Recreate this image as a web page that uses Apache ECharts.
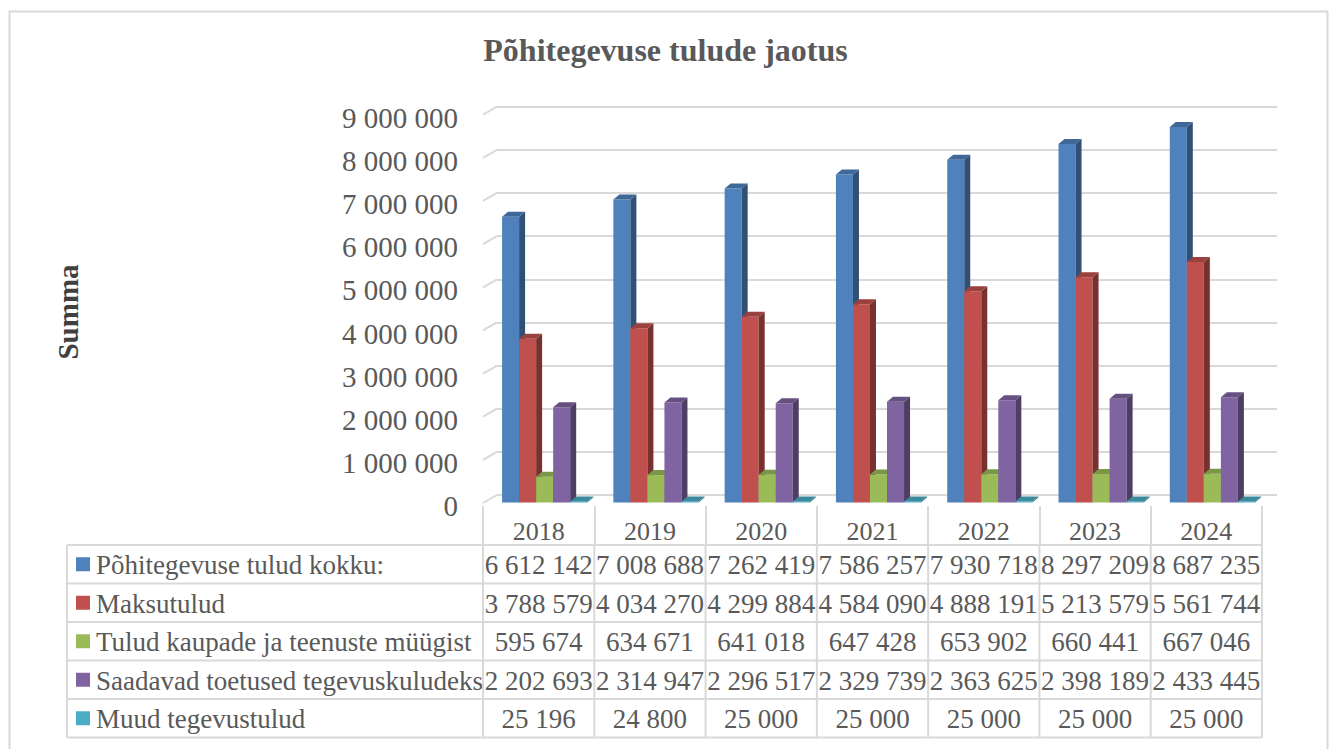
<!DOCTYPE html>
<html>
<head>
<meta charset="utf-8">
<title>Põhitegevuse tulude jaotus</title>
<script src="https://cdn.jsdelivr.net/npm/echarts@6/dist/echarts.min.js"></script>
<style>
  html, body { margin: 0; padding: 0; background: #fff; }
  #main { width: 1331px; height: 749px; }
</style>
</head>
<body>
<div id="main"></div>
<script>
  // andmed
  var years = ['2018', '2019', '2020', '2021', '2022', '2023', '2024'];
  var seriesNames = [
    'Põhitegevuse tulud kokku:',
    'Maksutulud',
    'Tulud kaupade ja teenuste müügist',
    'Saadavad toetused tegevuskuludeks',
    'Muud tegevustulud'
  ];
  var kokku = [6612142, 7008688, 7262419, 7586257, 7930718, 8297209, 8687235];
  var maksutulud = [3788579, 4034270, 4299884, 4584090, 4888191, 5213579, 5561744];
  var myyk = [595674, 634671, 641018, 647428, 653902, 660441, 667046];
  var toetused = [2202693, 2314947, 2296517, 2329739, 2363625, 2398189, 2433445];
  var muud = [25196, 24800, 25000, 25000, 25000, 25000, 25000];
  var yTicks = [0, 1000000, 2000000, 3000000, 4000000, 5000000, 6000000, 7000000, 8000000, 9000000];

  var allSeries = [kokku, maksutulud, myyk, toetused, muud];
  var colors = ['#4F81BD', '#C0504D', '#9BBB59', '#8064A2', '#4BACC6'];
  var font = 'Liberation Serif';
  var gridColor = '#d9d9d9';

  function fmt(v) {
    return String(v).replace(/\B(?=(\d{3})+(?!\d))/g, ' ');
  }

  function shade(hex, f) {
    var n = parseInt(hex.slice(1), 16);
    var r = Math.round(((n >> 16) & 255) * f);
    var g = Math.round(((n >> 8) & 255) * f);
    var b = Math.round((n & 255) * f);
    return 'rgb(' + r + ',' + g + ',' + b + ')';
  }

  // 3D tulp: esikülg, külg ja pealmine pind
  function barRenderer(si) {
    return function (params, api) {
      var cat = api.value(0);
      var top = api.coord([cat, api.value(1)]);
      var base = api.coord([cat, 0]);
      var band = api.size([1, 0])[0];
      var w = band * 0.153, dx = 6, dy = 5;
      var x = top[0] - w * 2.5 + si * w;
      var c = colors[si];
      return {
        type: 'group',
        children: [
          {type: 'rect', shape: {x: x, y: top[1], width: w, height: base[1] - top[1]}, style: {fill: c}},
          {type: 'polygon', shape: {points: [[x + w, top[1]], [x + w + dx, top[1] - dy], [x + w + dx, base[1] - dy], [x + w, base[1]]]},
            style: {fill: shade(c, 0.62)}},
          {type: 'polygon', shape: {points: [[x, top[1]], [x + dx, top[1] - dy], [x + w + dx, top[1] - dy], [x + w, top[1]]]},
            style: {fill: shade(c, 0.8)}}
        ]
      };
    };
  }

  var series = allSeries.map(function (vals, si) {
    return {
      name: seriesNames[si],
      type: 'custom',
      xAxisIndex: 1,
      yAxisIndex: 1,
      clip: false,
      z: 5,
      renderItem: barRenderer(si),
      encode: {x: 0, y: 1},
      data: vals.map(function (v, i) { return [i, v]; })
    };
  });

  // vasaku seina kaldjooned
  series.push({
    type: 'custom',
    xAxisIndex: 2,
    yAxisIndex: 2,
    clip: false,
    z: 1,
    renderItem: function (params, api) {
      var p = api.coord([0, api.value(0)]);
      return {type: 'line', shape: {x1: p[0] - 14, y1: p[1] + 8, x2: p[0], y2: p[1]},
        style: {stroke: gridColor, lineWidth: 2}};
    },
    encode: {y: 0},
    data: yTicks.map(function (t) { return [t]; })
  });

  var chart = echarts.init(document.getElementById('main'), null, {renderer: 'svg'});

  var option = {
    animation: false,
    backgroundColor: '#fff',
    title: {
      text: 'Põhitegevuse tulude jaotus',
      left: 'center',
      top: 29,
      textStyle: {fontFamily: font, fontSize: 32, fontWeight: 'bold', color: '#595959'}
    },
    grid: [
      {left: 483, top: 118, width: 779, height: 388},       // esiserv: sildid
      {left: 489, top: 113.5, width: 779, height: 389},     // tulbad
      {left: 497, top: 106.7, width: 780, height: 388.3}    // tagasein
    ],
    xAxis: [
      {
        gridIndex: 0, type: 'category', data: years,
        axisLine: {show: false},
        axisTick: {show: true, interval: 0, length: 39, lineStyle: {color: gridColor, width: 2}},
        axisLabel: {margin: 12, fontFamily: font, fontSize: 26, color: '#595959'}
      },
      {gridIndex: 1, type: 'category', data: years, show: false},
      {gridIndex: 2, type: 'value', min: 0, max: 1, show: false}
    ],
    yAxis: [
      {
        gridIndex: 0, type: 'value', min: 0, max: 9000000, interval: 1000000,
        name: 'Summa', nameLocation: 'middle', nameRotate: 90, nameGap: 401,
        nameTextStyle: {fontFamily: font, fontSize: 29, fontWeight: 'bold', color: '#404040'},
        axisLine: {show: false}, axisTick: {show: false}, splitLine: {show: false},
        axisLabel: {margin: 25, fontFamily: font, fontSize: 29, color: '#595959', formatter: fmt}
      },
      {gridIndex: 1, type: 'value', min: 0, max: 9000000, show: false},
      {
        gridIndex: 2, type: 'value', min: 0, max: 9000000, interval: 1000000,
        axisLine: {show: false}, axisTick: {show: false}, axisLabel: {show: false},
        splitLine: {show: true, lineStyle: {color: gridColor, width: 2}}
      }
    ],
    series: series
  };

  chart.setOption(option);

  // andmetabel diagrammi all
  var tableTop = 545, rowH = 38.5, tableLeft = 67;
  var centers = years.map(function (y, i) { return chart.convertToPixel({gridIndex: 0}, [i, 0])[0]; });
  var band = centers[1] - centers[0];
  var colLeft = centers[0] - band / 2;
  var colRight = centers[centers.length - 1] + band / 2;
  var tableBottom = tableTop + rowH * seriesNames.length;
  var lineStyle = {stroke: gridColor, lineWidth: 2};
  var g = [];

  g.push({type: 'rect', left: 7, top: 9, shape: {width: 1318, height: 760},
    style: {fill: 'none', stroke: gridColor, lineWidth: 2}, silent: true});

  for (var r = 0; r <= seriesNames.length; r++) {
    var yy = tableTop + r * rowH;
    g.push({type: 'line', shape: {x1: tableLeft, y1: yy, x2: colRight, y2: yy}, style: lineStyle});
  }
  g.push({type: 'line', shape: {x1: tableLeft, y1: tableTop, x2: tableLeft, y2: tableBottom}, style: lineStyle});
  for (var c = 0; c <= years.length; c++) {
    var xx = colLeft + c * band;
    g.push({type: 'line', shape: {x1: xx, y1: tableTop, x2: xx, y2: tableBottom}, style: lineStyle});
  }

  seriesNames.forEach(function (name, si) {
    var cy = tableTop + si * rowH + rowH / 2;
    g.push({type: 'rect', shape: {x: 76, y: cy - 7, width: 14, height: 14}, style: {fill: colors[si]}});
    g.push({type: 'text', x: 96, y: cy + 1, style: {text: name, font: '27px "' + font + '"',
      fill: '#595959', textAlign: 'left', textVerticalAlign: 'middle'}});
    allSeries[si].forEach(function (v, i) {
      g.push({type: 'text', x: centers[i], y: cy + 1, style: {text: fmt(v), font: '27px "' + font + '"',
        fill: '#595959', textAlign: 'center', textVerticalAlign: 'middle'}});
    });
  });

  chart.setOption({graphic: g});
</script>
</body>
</html>
